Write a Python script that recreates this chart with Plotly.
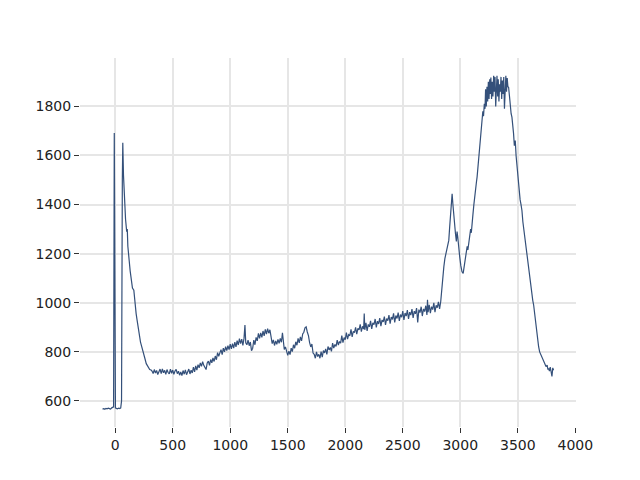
import plotly.graph_objects as go

# Spectrum: wavenumber (x) and intensity (y)
wavenumber = [
    -110, -100, -90, -80, -70, -60, -50, -40, -30, -20, -14, -8, -3, 2,
    10, 20, 30, 40, 48, 55, 62, 66, 72, 80, 90, 100, 105, 110, 118, 122, 130, 139,
    150, 162, 170, 182, 190, 200, 211, 220, 230, 240, 250, 260, 270, 278, 290, 300, 312,
    320, 330, 340, 350, 360, 370, 380, 390, 400, 410, 420, 430, 440, 450, 460, 470, 480, 490,
    500, 510, 520, 530, 540, 550, 560, 570, 580, 590, 600, 610, 620, 630, 640, 650, 660, 670,
    680, 690, 700, 710, 720, 730, 740, 750, 760, 770, 780, 790, 800, 810, 820, 830, 840, 850,
    860, 870, 880, 890, 900, 910, 920, 930, 940, 950, 960, 970, 980, 990, 1000, 1010, 1020,
    1030, 1040, 1050, 1060, 1070, 1080, 1090, 1100, 1110, 1120, 1128, 1135, 1145, 1155, 1165,
    1175, 1185, 1195, 1205, 1215, 1225, 1235, 1245, 1255, 1265, 1275, 1285, 1295, 1305, 1315,
    1325, 1335, 1345, 1355, 1365, 1375, 1385, 1395, 1405, 1415, 1425, 1435, 1445, 1454, 1462,
    1470, 1480, 1490, 1500, 1510, 1520, 1530, 1540, 1550, 1560, 1570, 1580, 1590, 1600, 1610,
    1620, 1630, 1640, 1650, 1660, 1670, 1680, 1690, 1700, 1710, 1720, 1730, 1740, 1750, 1760,
    1770, 1780, 1790, 1800, 1810, 1820, 1830, 1840, 1850, 1860, 1870, 1880, 1890, 1900, 1910,
    1920, 1930, 1940, 1950, 1960, 1970, 1980, 1990, 2000, 2010, 2020, 2030, 2040, 2050, 2060,
    2070, 2080, 2090, 2100, 2110, 2120, 2130, 2140, 2150, 2160, 2165, 2170, 2180, 2190, 2200,
    2210, 2220, 2230, 2240, 2250, 2260, 2270, 2280, 2290, 2300, 2310, 2320, 2330, 2340, 2350,
    2360, 2370, 2380, 2390, 2400, 2410, 2420, 2430, 2440, 2450, 2460, 2470, 2480, 2490, 2500,
    2510, 2520, 2530, 2540, 2550, 2560, 2570, 2580, 2590, 2600, 2610, 2620, 2630, 2640, 2650,
    2660, 2670, 2680, 2690, 2700, 2710, 2715, 2720, 2730, 2740, 2750, 2760, 2770, 2780, 2790,
    2800, 2810, 2820, 2830, 2838, 2845, 2857, 2866, 2876, 2886, 2893, 2900, 2908, 2915, 2922,
    2929, 2936, 2944, 2951, 2958, 2966, 2972, 2978, 2986, 2995, 3005, 3015, 3025, 3035, 3044,
    3052, 3060, 3066, 3073, 3082, 3090, 3096, 3102, 3110, 3118, 3125, 3131, 3140, 3146, 3155,
    3162, 3168, 3176, 3183, 3189, 3196, 3202, 3209, 3215, 3220, 3226, 3232, 3238, 3244, 3250,
    3256, 3261, 3266, 3272, 3278, 3284, 3290, 3296, 3302, 3308, 3314, 3319, 3325, 3330, 3336,
    3342, 3348, 3354, 3360, 3366, 3372, 3378, 3384, 3390, 3396, 3402, 3408, 3414, 3420, 3428,
    3435, 3442, 3449, 3456, 3463, 3470, 3478, 3485, 3492, 3500, 3507, 3514, 3520, 3528, 3536,
    3544, 3552, 3558, 3565, 3572, 3580, 3587, 3594, 3600, 3608, 3616, 3623, 3630, 3638, 3645,
    3652, 3660, 3668, 3675, 3681, 3690, 3698, 3706, 3715, 3725, 3735, 3745, 3755, 3762, 3768,
    3775, 3782, 3790, 3797, 3804, 3811,
]

intensity = [
    567, 569, 566, 570, 568, 571, 569, 567, 572, 574, 576, 1692, 620, 572,
    570, 568, 571, 569, 572, 600, 1500, 1652, 1520, 1395, 1340, 1290, 1300, 1230, 1200, 1170, 1130, 1092,
    1060, 1051, 1005, 956, 930, 895, 868, 840, 822, 807, 785, 770, 752, 746, 732, 728, 726,
    722, 712, 728, 714, 724, 708, 721, 730, 711, 731, 715, 725, 708, 728, 716, 710, 730, 713,
    726, 709, 722, 729, 711, 721, 705, 718, 703, 724, 709, 727, 707, 720, 730, 710, 725, 714,
    738, 719, 743, 726, 748, 735, 755, 741, 760, 745, 736, 728, 755, 762, 745, 769, 755, 775,
    761, 783, 768, 797, 782, 800, 809, 789, 815, 800, 821, 805, 825, 809, 832, 812, 834,
    815, 840, 820, 846, 828, 854, 834, 852, 826, 856, 909, 837, 829, 848, 825,
    840, 805, 814, 848, 829, 859, 845, 875, 855, 877, 859, 885, 865, 892, 872,
    895, 876, 890, 850, 834, 849, 826, 845, 831, 851, 835, 855, 839, 878, 834,
    810, 820, 795, 786, 803, 789, 815, 801, 829, 815, 841, 827, 855, 837, 861,
    845, 873, 880, 898, 902, 881, 866, 838, 820, 832, 795, 790, 774, 800, 781,
    790, 774, 801, 779, 805, 796, 812, 790, 822, 808, 818, 802, 836, 815, 830,
    822, 848, 828, 842, 836, 866, 838, 858, 850, 878, 852, 870, 866, 892, 861,
    884, 878, 900, 872, 896, 890, 912, 882, 904, 893, 956, 890, 918, 885, 912,
    902, 926, 894, 918, 911, 934, 900, 925, 914, 938, 905, 930, 922, 944, 910,
    936, 927, 950, 915, 942, 932, 957, 920, 948, 936, 960, 926, 952, 941, 966,
    930, 958, 946, 970, 934, 962, 950, 974, 938, 966, 955, 978, 920, 972, 960,
    984, 946, 975, 964, 988, 950, 1012, 962, 992, 958, 984, 972, 1000, 962, 990,
    980, 1004, 975, 1005, 1060, 1100, 1146, 1180, 1200, 1214, 1240, 1254, 1310, 1363, 1410,
    1444, 1400, 1349, 1300, 1282, 1250, 1290, 1268, 1220, 1187, 1150, 1126, 1120, 1150, 1173,
    1200, 1230, 1215, 1241, 1265, 1300, 1285, 1309, 1360, 1400, 1440, 1458, 1490, 1512, 1560,
    1610, 1648, 1690, 1700, 1729, 1780, 1760, 1810, 1790, 1870, 1800, 1880, 1820, 1900, 1830,
    1910, 1850, 1918, 1830, 1900, 1840, 1925, 1860, 1920, 1800, 1900, 1925, 1840, 1910, 1820,
    1890, 1860, 1920, 1830, 1905, 1850, 1920, 1790, 1880, 1925, 1860, 1915, 1880, 1878, 1840,
    1790, 1770, 1756, 1700, 1690, 1640, 1661, 1600, 1560, 1540, 1512, 1470, 1420, 1400, 1376,
    1330, 1300, 1270, 1241, 1210, 1180, 1150, 1133, 1100, 1080, 1050, 1038, 1010, 990, 960,
    943, 900, 880, 850, 821, 800, 790, 780, 770, 760, 752, 740, 746, 728, 733,
    722, 738, 718, 700, 735, 725,
]

x_ticks = [0, 500, 1000, 1500, 2000, 2500, 3000, 3500, 4000]
y_ticks = [600, 800, 1000, 1200, 1400, 1600, 1800]

fig = go.Figure()
fig.add_trace(go.Scatter(
    x=wavenumber, y=intensity, mode="lines",
    line=dict(color="#34507a", width=1.2),
    showlegend=False, hoverinfo="skip",
))

axis_common = dict(
    showline=False, zeroline=False, showgrid=True,
    gridcolor="#e6e6e6", gridwidth=1.5,
    ticks="outside", ticklen=5, tickwidth=1, tickcolor="#333333",
    tickfont=dict(family="DejaVu Sans", size=14, color="#222222"),
)

# page body has an 8px margin, so plot-area margins are offset by 8px
fig.update_layout(
    width=640, height=480,
    margin=dict(l=72, r=72, t=50, b=61),
    paper_bgcolor="white", plot_bgcolor="white",
    xaxis=dict(range=[-306, 4006], tickvals=x_ticks,
               ticktext=[str(v) for v in x_ticks], **axis_common),
    yaxis=dict(range=[494, 1997], tickvals=y_ticks,
               ticktext=[str(v) for v in y_ticks], **axis_common),
)

fig.write_html("out.html")
